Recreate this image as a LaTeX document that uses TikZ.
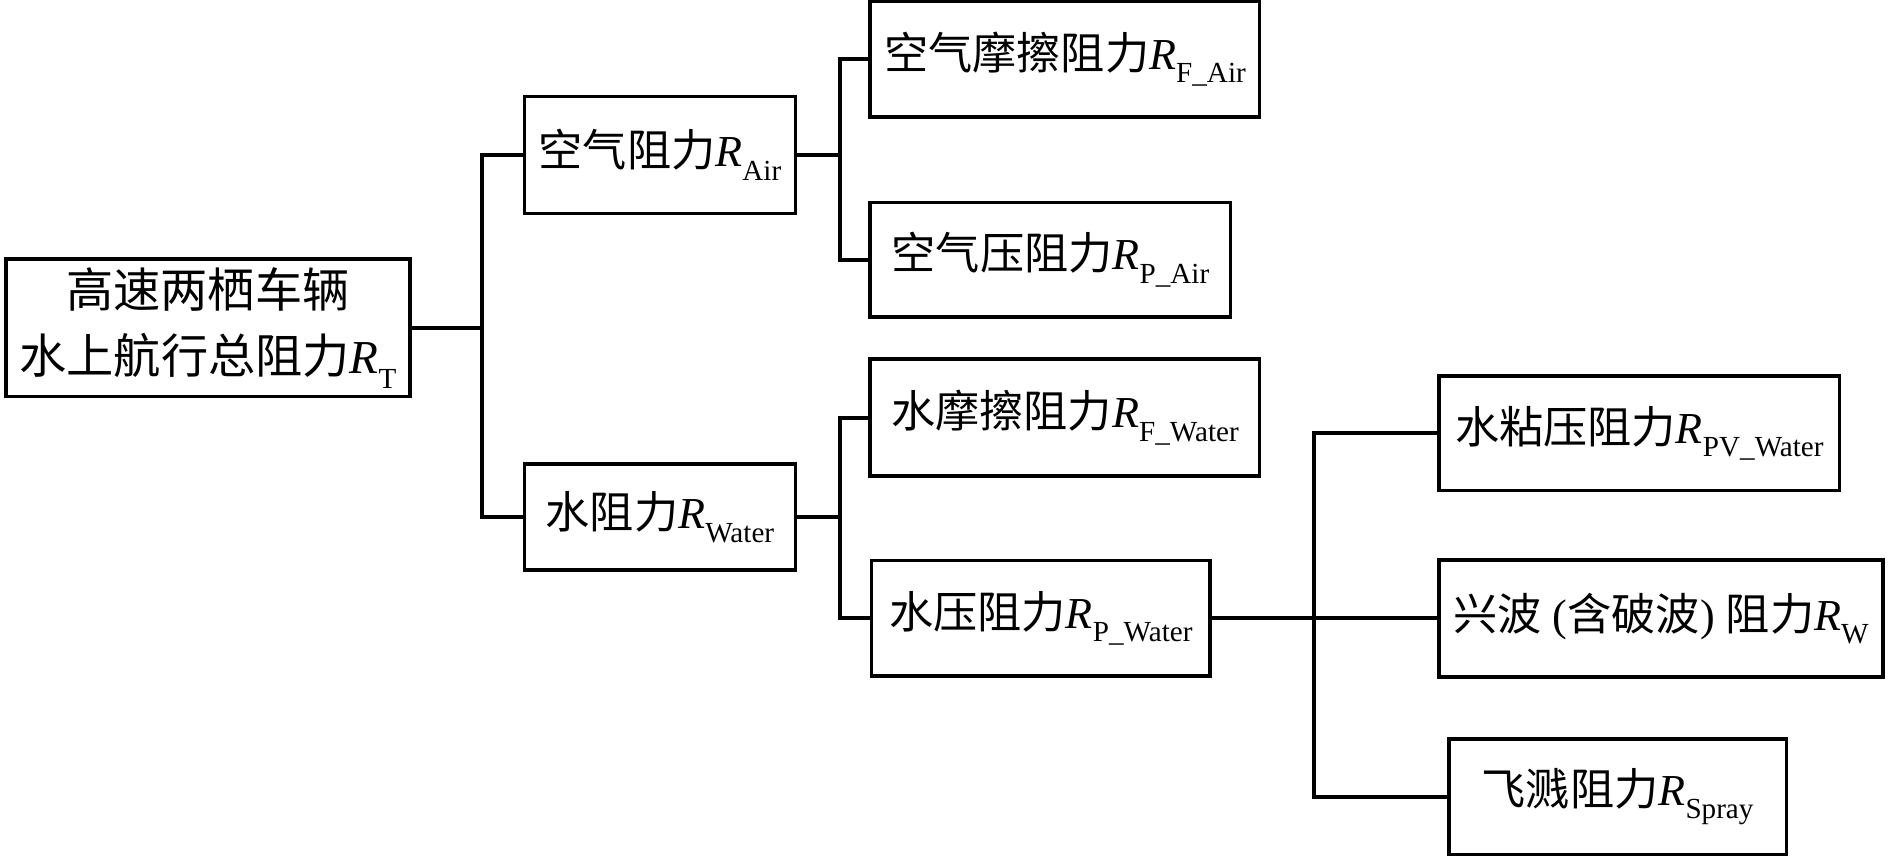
\documentclass[tikz,border=0pt]{standalone}
\usepackage{fontspec}
\setmainfont{Liberation Serif}
\newfontfamily\cjk{Noto Sans CJK SC}
\newcommand{\Rsub}[1]{\textit{R}\raisebox{-0.3em}{\fontsize{14.5}{14.5}\selectfont #1}}
\begin{document}
\begin{tikzpicture}[x=0.6pt,y=-0.6pt,
  box/.style={draw,line width=1.8pt,rectangle,inner sep=0pt,
    font=\fontsize{22}{26}\selectfont},
  conn/.style={line width=2pt}]
\useasboundingbox (0,0) rectangle (1568,711);
\node[box,minimum width={335*0.6pt},minimum height={114*0.6pt},align=center,
  font=\fontsize{23.5}{33}\selectfont] (root) at (172.5,272)
  {{\cjk 高速两栖车辆}\\{\cjk 水上航行总阻力}\Rsub{T}};
\node[box,minimum width={225*0.6pt},minimum height={97*0.6pt}] (air) at (547.5,128.5)
  {{\cjk 空气阻力}\Rsub{Air}};
\node[box,minimum width={225*0.6pt},minimum height={88*0.6pt}] (water) at (547.5,429)
  {{\cjk 水阻力}\Rsub{Water}};
\node[box,minimum width={323*0.6pt},minimum height={96*0.6pt}] (fair) at (883.5,49)
  {{\cjk 空气摩擦阻力}\Rsub{F\_Air}};
\node[box,minimum width={299*0.6pt},minimum height={95*0.6pt}] (pair) at (871.5,215.5)
  {{\cjk 空气压阻力}\Rsub{P\_Air}};
\node[box,minimum width={323*0.6pt},minimum height={97*0.6pt}] (fwater) at (883.5,346.5)
  {{\cjk 水摩擦阻力}\Rsub{F\_Water}};
\node[box,minimum width={281*0.6pt},minimum height={96*0.6pt}] (pwater) at (863.5,513)
  {{\cjk 水压阻力}\Rsub{P\_Water}};
\node[box,minimum width={332*0.6pt},minimum height={95*0.6pt}] (pv) at (1360,359.5)
  {{\cjk 水粘压阻力}\Rsub{PV\_Water}};
\node[box,minimum width={368*0.6pt},minimum height={97*0.6pt}] (wave) at (1378,513)
  {{\cjk 兴波} ({\cjk 含破波}) {\cjk 阻力}\Rsub{W}};
\node[box,minimum width={280*0.6pt},minimum height={96*0.6pt}] (spray) at (1342,661)
  {{\cjk 飞溅阻力}\Rsub{Spray}};
\coordinate (j1) at (400,272);
\coordinate (j2) at (697,128.5);
\coordinate (j3) at (697,429);
\coordinate (j4) at (1090,513);
\draw[conn] (root.east) -- (j1);
\draw[conn] (air.west) -| (j1);
\draw[conn] (water.west) -| (j1);
\draw[conn] (air.east) -- (j2);
\draw[conn] (fair.west) -| (j2);
\draw[conn] (pair.west) -| (j2);
\draw[conn] (water.east) -- (j3);
\draw[conn] (fwater.west) -| (j3);
\draw[conn] (pwater.west) -| (j3);
\draw[conn] (pwater.east) -- (j4);
\draw[conn] (wave.west) -- (j4);
\draw[conn] (pv.west) -| (j4);
\draw[conn] (spray.west) -| (j4);
\end{tikzpicture}
\end{document}
